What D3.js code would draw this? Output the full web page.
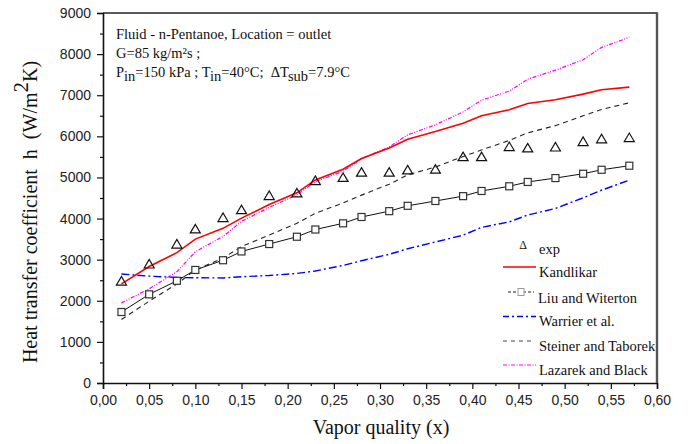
<!DOCTYPE html>
<html>
<head>
<meta charset="utf-8">
<script src="https://cdn.jsdelivr.net/npm/d3@7"></script>
<style>
  html, body { margin: 0; padding: 0; background: #fff; }
  svg { display: block; }
  .tick text { font-family: "Liberation Sans", Arial, sans-serif; font-size: 14px; fill: #222; }
</style>
</head>
<body>
<svg id="chart" width="696" height="444"></svg>
<script>
// Vapor quality at which each point was taken
const quality = [0.02, 0.05, 0.08, 0.10, 0.13, 0.15, 0.18, 0.21, 0.23, 0.26, 0.28,
                 0.31, 0.33, 0.36, 0.39, 0.41, 0.44, 0.46, 0.49, 0.52, 0.54, 0.57];

// Heat transfer coefficient, W/m²K
const expData   = [2480, 2895, 3380, 3750, 4025, 4215, 4560, 4625, 4925, 5000, 5130,
                   5130, 5185, 5200, 5507, 5507, 5751, 5720, 5740, 5873, 5940, 5970];
const kandlikar = [2410, 2835, 3170, 3500, 3762, 4010, 4340, 4625, 4939, 5200, 5460,
                   5715, 5930, 6116, 6320, 6499, 6645, 6800, 6890, 7027, 7132, 7198];
const liuWiterton = [1727, 2157, 2486, 2750, 2986, 3200, 3380, 3558, 3733, 3884, 4038,
                     4180, 4310, 4427, 4545, 4671, 4785, 4890, 4985, 5090, 5187, 5285];
const warrier   = [2650, 2600, 2565, 2560, 2555, 2584, 2616, 2665, 2725, 2860, 2975,
                   3130, 3265, 3430, 3595, 3785, 3920, 4085, 4245, 4505, 4690, 4935];
const steiner   = [1545, 1990, 2410, 2746, 3040, 3320, 3599, 3884, 4128, 4380, 4570,
                   4835, 5061, 5255, 5507, 5670, 5900, 6085, 6260, 6500, 6655, 6815];
const lazarek   = [1949, 2290, 2705, 3193, 3565, 3930, 4270, 4580, 4898, 5150, 5458,
                   5743, 6036, 6280, 6595, 6880, 7100, 7390, 7610, 7863, 8163, 8407];

const xTicks = [0, 0.05, 0.10, 0.15, 0.20, 0.25, 0.30, 0.35, 0.40, 0.45, 0.50, 0.55, 0.60];
const yTicks = [0, 1000, 2000, 3000, 4000, 5000, 6000, 7000, 8000, 9000];

const legendNames = ["exp", "Kandlikar", "Liu and Witerton", "Warrier et al.",
                     "Steiner and Taborek", "Lazarek and Black"];

const SERIF = "'Liberation Serif', 'Times New Roman', Times, serif";
const NB = "\u00a0";

const svg = d3.select("#chart");
const plotL = 103, plotR = 657, plotT = 13, plotB = 383;

const x = d3.scaleLinear().domain([0, 0.6]).range([plotL, plotR]);
const y = d3.scaleLinear().domain([0, 9000]).range([plotB, plotT]);

const fmtX = v => d3.format(".2f")(v).replace(".", ",");

// minor ticks
const xMinor = d3.range(0.025, 0.6, 0.05);
const yMinor = d3.range(500, 9000, 1000);

svg.append("g").attr("transform", `translate(0,${plotB})`)
  .call(d3.axisBottom(x).tickValues(xTicks).tickFormat(fmtX).tickSize(6).tickPadding(6));
svg.append("g").attr("transform", `translate(0,${plotB})`)
  .call(d3.axisBottom(x).tickValues(xMinor).tickFormat("").tickSize(3))
  .select(".domain").remove();

svg.append("g").attr("transform", `translate(${plotL},0)`)
  .call(d3.axisLeft(y).tickValues(yTicks).tickFormat(d3.format("d")).tickSize(6).tickPadding(6));
svg.append("g").attr("transform", `translate(${plotL},0)`)
  .call(d3.axisLeft(y).tickValues(yMinor).tickFormat("").tickSize(3))
  .select(".domain").remove();

svg.selectAll(".domain").attr("stroke", "#111").attr("stroke-width", 1.6);
svg.selectAll(".tick line").attr("stroke", "#111").attr("stroke-width", 1.2);

// frame: top and right
svg.append("line").attr("x1", plotL).attr("x2", plotR).attr("y1", plotT).attr("y2", plotT)
  .attr("stroke", "#222").attr("stroke-width", 1.6);
svg.append("line").attr("x1", plotR).attr("x2", plotR).attr("y1", plotT - 0.8).attr("y2", plotB)
  .attr("stroke", "#555").attr("stroke-width", 2.4);

const line = vals => d3.line().x((d, i) => x(quality[i])).y(d => y(d))(vals);

const series = [
  { vals: lazarek, color: "#ff00ff", width: 1.2, dash: "4,1.5,1,1.5,1,1.5" },
  { vals: steiner, color: "#222", width: 1.1, dash: "5,4" },
  { vals: warrier, color: "#0000ff", width: 1.4, dash: "8,3,2,3" },
  { vals: kandlikar, color: "#ff0000", width: 1.6, dash: null },
  { vals: liuWiterton, color: "#111", width: 1.0, dash: null }
];

series.forEach(s => {
  svg.append("path").attr("d", line(s.vals)).attr("fill", "none")
    .attr("stroke", s.color).attr("stroke-width", s.width)
    .attr("stroke-dasharray", s.dash);
});

// Liu and Witerton squares
svg.append("g").selectAll("rect").data(liuWiterton).join("rect")
  .attr("x", (d, i) => x(quality[i]) - 3.5).attr("y", d => y(d) - 3.5)
  .attr("width", 7).attr("height", 7)
  .attr("fill", "#fff").attr("stroke", "#333").attr("stroke-width", 1.2);

// experimental triangles
const tri = (cx, cy) => `M${cx - 5},${cy + 4}L${cx},${cy - 4.5}L${cx + 5},${cy + 4}Z`;
svg.append("g").selectAll("path").data(expData).join("path")
  .attr("d", (d, i) => tri(x(quality[i]), y(d)))
  .attr("fill", "none").attr("stroke", "#111").attr("stroke-width", 1.2);

// annotation
const note = svg.append("g").attr("font-family", SERIF).attr("font-size", 14.5).attr("fill", "#111");
note.append("text").attr("x", 116).attr("y", 39).text("Fluid - n-Pentanoe, Location = outlet");
note.append("text").attr("x", 116).attr("y", 58).text("G=85 kg/m²s ;");
const t3 = note.append("text").attr("x", 116).attr("y", 77);
t3.append("tspan").text("P");
t3.append("tspan").attr("dy", 4).text("in");
t3.append("tspan").attr("dy", -4).text("=150 kPa ; T");
t3.append("tspan").attr("dy", 4).text("in");
t3.append("tspan").attr("dy", -4).text("=40°C;" + NB + NB + "ΔT");
t3.append("tspan").attr("dy", 4).text("sub");
t3.append("tspan").attr("dy", -4).text("=7.9°C");

// axis titles
svg.append("text").attr("font-family", SERIF).attr("font-size", 20).attr("fill", "#111")
  .attr("x", 381).attr("y", 434).attr("text-anchor", "middle").text("Vapor quality (x)");

const yt = svg.append("text").attr("font-family", SERIF).attr("font-size", 20).attr("fill", "#111")
  .attr("text-anchor", "middle")
  .attr("transform", "translate(37,212) rotate(-90)");
yt.append("tspan").text("Heat transfer coefficient" + NB + NB + "h" + NB + NB + "(W/m");
yt.append("tspan").attr("dy", -9).attr("font-size", 21).text("2");
yt.append("tspan").attr("dy", 9).text("K)");

// legend
const lg = svg.append("g").attr("font-family", SERIF).attr("font-size", 14.5).attr("fill", "#111");
const lx0 = 503, lx1 = 536, tx = 539;
const rows = [245, 267, 292, 316.5, 341, 365];

lg.append("text").attr("x", 523).attr("y", rows[0] + 4).attr("text-anchor", "middle")
  .attr("font-size", 12).text("Δ");
lg.append("line").attr("x1", lx0).attr("x2", lx1).attr("y1", rows[1]).attr("y2", rows[1])
  .attr("stroke", "#ff0000").attr("stroke-width", 1.6);
lg.append("line").attr("x1", 508).attr("x2", 534).attr("y1", rows[2]).attr("y2", rows[2])
  .attr("stroke", "#222").attr("stroke-width", 1).attr("stroke-dasharray", "3,2");
lg.append("rect").attr("x", 518).attr("y", rows[2] - 3.5).attr("width", 6).attr("height", 7)
  .attr("fill", "#fff").attr("stroke", "#999").attr("stroke-width", 1);
lg.append("line").attr("x1", lx0).attr("x2", lx1).attr("y1", rows[3]).attr("y2", rows[3])
  .attr("stroke", "#0000ff").attr("stroke-width", 1.4).attr("stroke-dasharray", "6,3,2,3");
lg.append("line").attr("x1", lx0).attr("x2", 532).attr("y1", rows[4]).attr("y2", rows[4])
  .attr("stroke", "#444").attr("stroke-width", 1).attr("stroke-dasharray", "4,4");
lg.append("line").attr("x1", lx0).attr("x2", lx1).attr("y1", rows[5]).attr("y2", rows[5])
  .attr("stroke", "#ff00ff").attr("stroke-width", 1.2).attr("stroke-dasharray", "4,1.5,1,1.5");

const textY = [254, 277, 302.5, 326, 350.5, 375];
legendNames.forEach((n, i) => {
  lg.append("text").attr("x", i === 2 ? 538 : tx).attr("y", textY[i]).text(n);
});
</script>
</body>
</html>
